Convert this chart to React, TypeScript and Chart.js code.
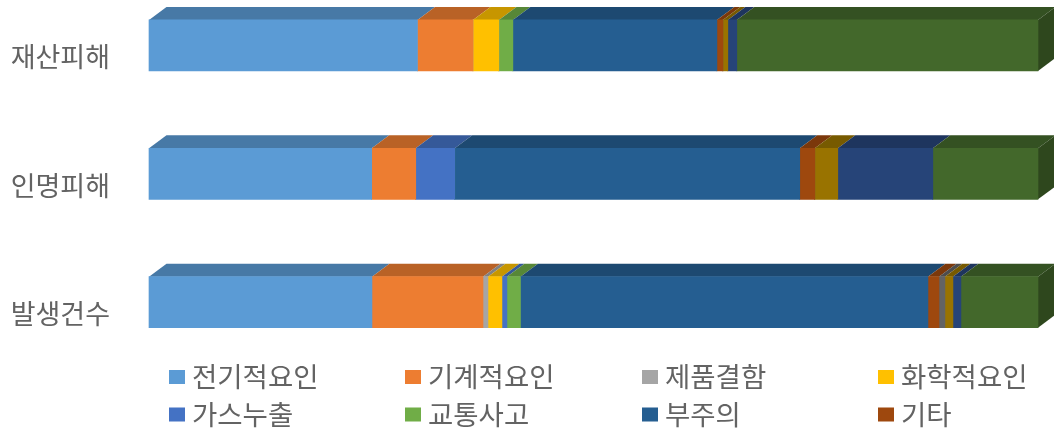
import React, { useEffect, useRef } from "react";
import { Chart, registerables } from "chart.js";

Chart.register(...registerables);

const categories = ["재산피해", "인명피해", "발생건수"];

// Shares (%) per category: 재산피해, 인명피해, 발생건수
const electrical = [30.2, 25.05, 25.08];
const mechanical = [6.24, 4.95, 12.49];
const productDefect = [0, 0, 0.56];
const chemical = [2.92, 0, 1.57];
const gasLeak = [0, 4.39, 0.56];
const traffic = [1.57, 0, 1.52];
const carelessness = [22.95, 38.81, 45.84];
const other = [0.67, 1.69, 1.24];
const unlistedGray = [0, 0, 0.67];
const unlistedGold = [0.56, 2.59, 0.9];
const unlistedBlue = [1.01, 10.69, 0.9];
const unlistedGreen = [33.88, 11.83, 8.67];

const seriesNames = ["전기적요인", "기계적요인", "제품결함", "화학적요인", "가스누출", "교통사고", "부주의", "기타", "", "", "", ""];
const seriesValues = [electrical, mechanical, productDefect, chemical, gasLeak, traffic, carelessness, other, unlistedGray, unlistedGold, unlistedBlue, unlistedGreen];
const seriesColors = ["#5B9BD5", "#ED7D31", "#A5A5A5", "#FFC000", "#4472C4", "#70AD47", "#255E91", "#9E480E", "#636363", "#997300", "#264478", "#43682B"];

const FONT = '"Noto Sans CJK KR", "Noto Sans", sans-serif';
const TEXT = "#636363";
const DEPTH_X = 17.5;
const DEPTH_Y = 13;

function shade(hex: string, f: number) {
  const n = parseInt(hex.slice(1), 16);
  const c = (v: number) => Math.round(v * f);
  return `rgb(${c((n >> 16) & 255)},${c((n >> 8) & 255)},${c(n & 255)})`;
}

// Top and side faces of each 3D bar, taken from the bars the library laid out
const depthFaces = {
  id: "depthFaces",
  beforeDatasetsDraw(chart: any) {
    const { ctx } = chart;
    ctx.save();
    chart.data.datasets.forEach((ds: any, di: number) => {
      const meta = chart.getDatasetMeta(di);
      meta.data.forEach((bar: any, i: number) => {
        if (!ds.data[i]) return;
        const { x, base, y, height } = bar.getProps(["x", "base", "y", "height"], true);
        const top = y - height / 2;
        const bottom = y + height / 2;
        ctx.fillStyle = shade(ds.backgroundColor, 0.78);
        ctx.beginPath();
        ctx.moveTo(base, top);
        ctx.lineTo(base + DEPTH_X, top - DEPTH_Y);
        ctx.lineTo(x + DEPTH_X, top - DEPTH_Y);
        ctx.lineTo(x, top);
        ctx.closePath();
        ctx.fill();
        if (di === chart.data.datasets.length - 1) {
          ctx.fillStyle = shade(ds.backgroundColor, 0.68);
          ctx.beginPath();
          ctx.moveTo(x, top);
          ctx.lineTo(x + DEPTH_X, top - DEPTH_Y);
          ctx.lineTo(x + DEPTH_X, bottom - DEPTH_Y);
          ctx.lineTo(x, bottom);
          ctx.closePath();
          ctx.fill();
        }
      });
    });
    ctx.restore();
  },
};

const gridLegend = {
  id: "gridLegend",
  afterDraw(chart: any, _args: any, opts: any) {
    const { ctx } = chart;
    const items = chart.data.datasets.filter((d: any) => d.label);
    ctx.save();
    ctx.textBaseline = "middle";
    ctx.textAlign = "left";
    ctx.font = `${opts.fontSize}px ${FONT}`;
    items.forEach((d: any, i: number) => {
      const x = opts.columns[i % opts.columns.length];
      const y = opts.rows[Math.floor(i / opts.columns.length)];
      ctx.fillStyle = d.backgroundColor;
      ctx.fillRect(x, y - 7, 16, 14);
      ctx.fillStyle = TEXT;
      ctx.fillText(d.label, x + 23, y);
    });
    ctx.restore();
  },
};

export default function App() {
  const ref = useRef<HTMLCanvasElement>(null);
  useEffect(() => {
    const chart = new Chart(ref.current!, {
      type: "bar",
      data: {
        labels: categories,
        datasets: seriesNames.map((label, i) => ({
          label,
          data: seriesValues[i],
          backgroundColor: seriesColors[i],
          borderWidth: 0,
          barThickness: 51,
          clip: false,
        })),
      },
      options: {
        indexAxis: "y",
        responsive: false,
        animation: false,
        layout: { padding: { left: 0, right: 16, top: 45.4, bottom: 128.8 } },
        scales: {
          x: { display: false, stacked: true, min: 0, max: 100 },
          y: {
            stacked: true,
            offset: false,
            grid: { display: false, drawTicks: false },
            border: { display: false },
            afterFit(scale: any) {
              scale.width = 149;
              scale.paddingTop = 0;
              scale.paddingBottom = 0;
            },
            ticks: {
              autoSkip: false,
              padding: 39,
              labelOffset: 11.5,
              color: TEXT,
              font: { family: FONT, size: 27 },
            },
          },
        },
        plugins: {
          legend: { display: false },
          tooltip: { enabled: false },
          gridLegend: { columns: [169, 405, 642, 878], rows: [377, 414.5], fontSize: 27.5 },
        },
      },
      plugins: [depthFaces, gridLegend],
    } as any);
    return () => chart.destroy();
  }, []);
  return (
    <div style={{ position: "absolute", left: 0, top: 0, width: 1054, height: 431, background: "#fff" }}>
      <canvas ref={ref} width={1054} height={431} style={{ display: "block" }} />
    </div>
  );
}
